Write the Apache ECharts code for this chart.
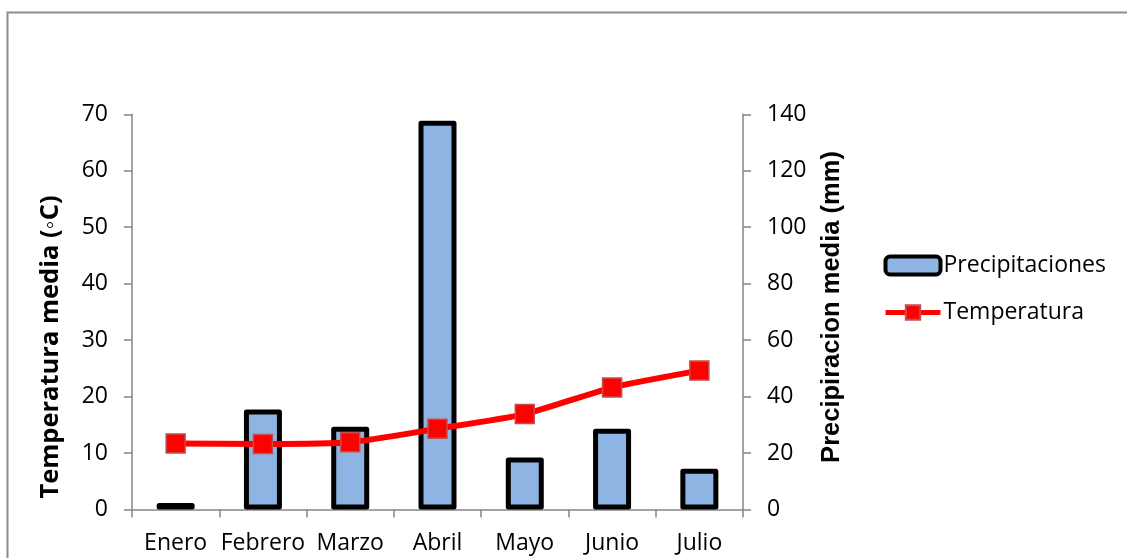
<!DOCTYPE html>
<html>
<head>
<meta charset="utf-8">
<title>Temperatura y precipitaciones</title>
<script src="https://cdn.jsdelivr.net/npm/echarts@6/dist/echarts.min.js"></script>
<style>
  html, body { margin: 0; padding: 0; background: #ffffff; }
  #chart { width: 1127px; height: 558px; }
</style>
</head>
<body>
<div id="chart"></div>
<script>
// Monthly categories
const months = ['Enero', 'Febrero', 'Marzo', 'Abril', 'Mayo', 'Junio', 'Julio'];
// Mean precipitation (mm), right axis
const precipitaciones = [2.3, 35.4, 29.3, 137.7, 18.4, 28.6, 14.4];
// Mean temperature (°C), left axis
const temperatura = [11.7, 11.6, 11.9, 14.3, 16.9, 21.6, 24.6];
// Axis ranges
const tempTicks = { min: 0, max: 70, interval: 10 };
const precTicks = { min: 0, max: 140, interval: 20 };

const FONT = '"Open Sans", "Liberation Sans", sans-serif';
const AXIS_GRAY = '#868686';

const chart = echarts.init(document.getElementById('chart'), null, { renderer: 'canvas' });

const yAxisCommon = {
  type: 'value',
  splitLine: { show: false },
  axisLine: { show: true, lineStyle: { color: AXIS_GRAY, width: 1.5 } },
  axisTick: { show: true, inside: false, length: 8, lineStyle: { color: AXIS_GRAY, width: 1.5 } },
  axisLabel: { color: '#000000', fontFamily: FONT, fontSize: 23, margin: 24 }
};

chart.setOption({
  animation: false,
  backgroundColor: '#ffffff',
  grid: { left: 132, right: 384, top: 114.3, bottom: 48.5, containLabel: false },
  xAxis: {
    type: 'category',
    data: months,
    boundaryGap: true,
    axisLine: { show: true, lineStyle: { color: AXIS_GRAY, width: 1.5 } },
    axisTick: { show: true, interval: 0, alignWithLabel: false, length: 8, lineStyle: { color: AXIS_GRAY, width: 1.5 } },
    axisLabel: { interval: 0, color: '#000000', fontFamily: FONT, fontSize: 23, margin: 22 }
  },
  yAxis: [
    Object.assign({}, yAxisCommon, {
      position: 'left',
      min: tempTicks.min, max: tempTicks.max, interval: tempTicks.interval
    }),
    Object.assign({}, yAxisCommon, {
      position: 'right',
      min: precTicks.min, max: precTicks.max, interval: precTicks.interval
    })
  ],
  legend: {
    orient: 'vertical',
    left: 883,
    top: 254,
    padding: 0,
    itemGap: 24,
    itemWidth: 55,
    itemHeight: 18,
    textStyle: { color: '#000000', fontFamily: FONT, fontSize: 23, lineHeight: 22, padding: [0, 0, 0, -2] },
    data: [
      { name: 'Precipitaciones', itemStyle: { borderWidth: 4, borderColor: '#000000' } },
      { name: 'Temperatura', lineStyle: { width: 5 } }
    ]
  },
  series: [
    {
      name: 'Precipitaciones',
      type: 'bar',
      yAxisIndex: 1,
      data: precipitaciones,
      barWidth: 38,
      itemStyle: {
        color: '#8db4e2',
        borderColor: '#000000',
        borderWidth: 5,
        borderJoin: 'round'
      },
      z: 2
    },
    {
      name: 'Temperatura',
      type: 'line',
      yAxisIndex: 0,
      data: temperatura,
      smooth: 0.2,
      symbol: 'rect',
      symbolSize: 19,
      lineStyle: { color: '#ff0000', width: 6 },
      itemStyle: { color: '#ff0000', borderColor: '#c0504d', borderWidth: 1.5 },
      z: 3
    }
  ],
  graphic: [
    {
      type: 'rect',
      silent: true,
      shape: { x: 7.5, y: 12.5, width: 1300, height: 700 },
      style: { fill: 'none', stroke: '#8c8c8c', lineWidth: 2 }
    },
    {
      type: 'text',
      silent: true,
      x: 51, y: 347,
      rotation: Math.PI / 2,
      style: {
        text: 'Temperatura media (◦C)',
        fontFamily: FONT, fontWeight: 'bold', fontSize: 25.5,
        fill: '#000000', align: 'center', verticalAlign: 'middle'
      }
    },
    {
      type: 'text',
      silent: true,
      x: 832, y: 307,
      rotation: Math.PI / 2,
      style: {
        text: 'Precipiracion media (mm)',
        fontFamily: '"Liberation Sans", Arial, sans-serif', fontWeight: 'bold', fontSize: 25.5,
        fill: '#000000', align: 'center', verticalAlign: 'middle'
      }
    }
  ]
});
</script>
</body>
</html>
